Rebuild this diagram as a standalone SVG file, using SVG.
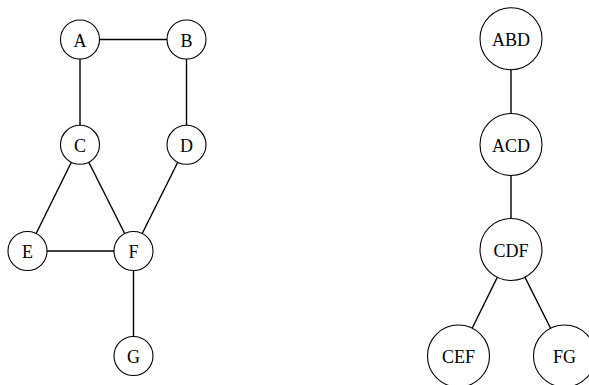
<svg xmlns="http://www.w3.org/2000/svg" width="589" height="385" viewBox="0 0 589 385">
<style>
.n circle{fill:#fff;stroke:#000;stroke-width:1.1}
.n text{font-family:"Liberation Serif","Times New Roman",serif;font-size:18px;text-anchor:middle;dominant-baseline:central;fill:#000}
#edges line{stroke:#000;stroke-width:1.4}
</style>
<rect width="589" height="385" fill="#fff"/>
<g id="edges">
<line x1="80" y1="39.5" x2="186.5" y2="39.5"/>
<line x1="80" y1="39.5" x2="80" y2="144.8"/>
<line x1="186.5" y1="39.5" x2="186.5" y2="144.8"/>
<line x1="80" y1="144.8" x2="27.5" y2="251"/>
<line x1="80" y1="144.8" x2="133.5" y2="251"/>
<line x1="186.5" y1="144.8" x2="133.5" y2="251"/>
<line x1="27.5" y1="251" x2="133.5" y2="251"/>
<line x1="133.5" y1="251" x2="133.5" y2="356"/>
<line x1="511" y1="38.7" x2="511" y2="144.5"/>
<line x1="511" y1="144.5" x2="511" y2="249.5"/>
<line x1="511" y1="249.5" x2="458.5" y2="356"/>
<line x1="511" y1="249.5" x2="564.5" y2="356"/>
</g>
<g id="A" class="n"><circle cx="80" cy="39.5" r="19.5"/><text x="80" y="40.5">A</text></g>
<g id="B" class="n"><circle cx="186.5" cy="39.5" r="19.5"/><text x="186.5" y="40.5">B</text></g>
<g id="C" class="n"><circle cx="80" cy="144.8" r="19.5"/><text x="80" y="145.8">C</text></g>
<g id="D" class="n"><circle cx="186.5" cy="144.8" r="19.5"/><text x="186.5" y="145.8">D</text></g>
<g id="E" class="n"><circle cx="27.5" cy="251" r="19.5"/><text x="27.5" y="252">E</text></g>
<g id="F" class="n"><circle cx="133.5" cy="251" r="19.5"/><text x="133.5" y="252">F</text></g>
<g id="G" class="n"><circle cx="133.5" cy="356" r="19.5"/><text x="133.5" y="357">G</text></g>
<g id="ABD" class="n"><circle cx="511" cy="38.7" r="31"/><text x="511" y="39.7">ABD</text></g>
<g id="ACD" class="n"><circle cx="511" cy="144.5" r="31"/><text x="511" y="145.5">ACD</text></g>
<g id="CDF" class="n"><circle cx="511" cy="249.5" r="31"/><text x="511" y="250.5">CDF</text></g>
<g id="CEF" class="n"><circle cx="458.5" cy="356" r="31"/><text x="458.5" y="357">CEF</text></g>
<g id="FG" class="n"><circle cx="564.5" cy="356" r="31"/><text x="564.5" y="357">FG</text></g>
</svg>
